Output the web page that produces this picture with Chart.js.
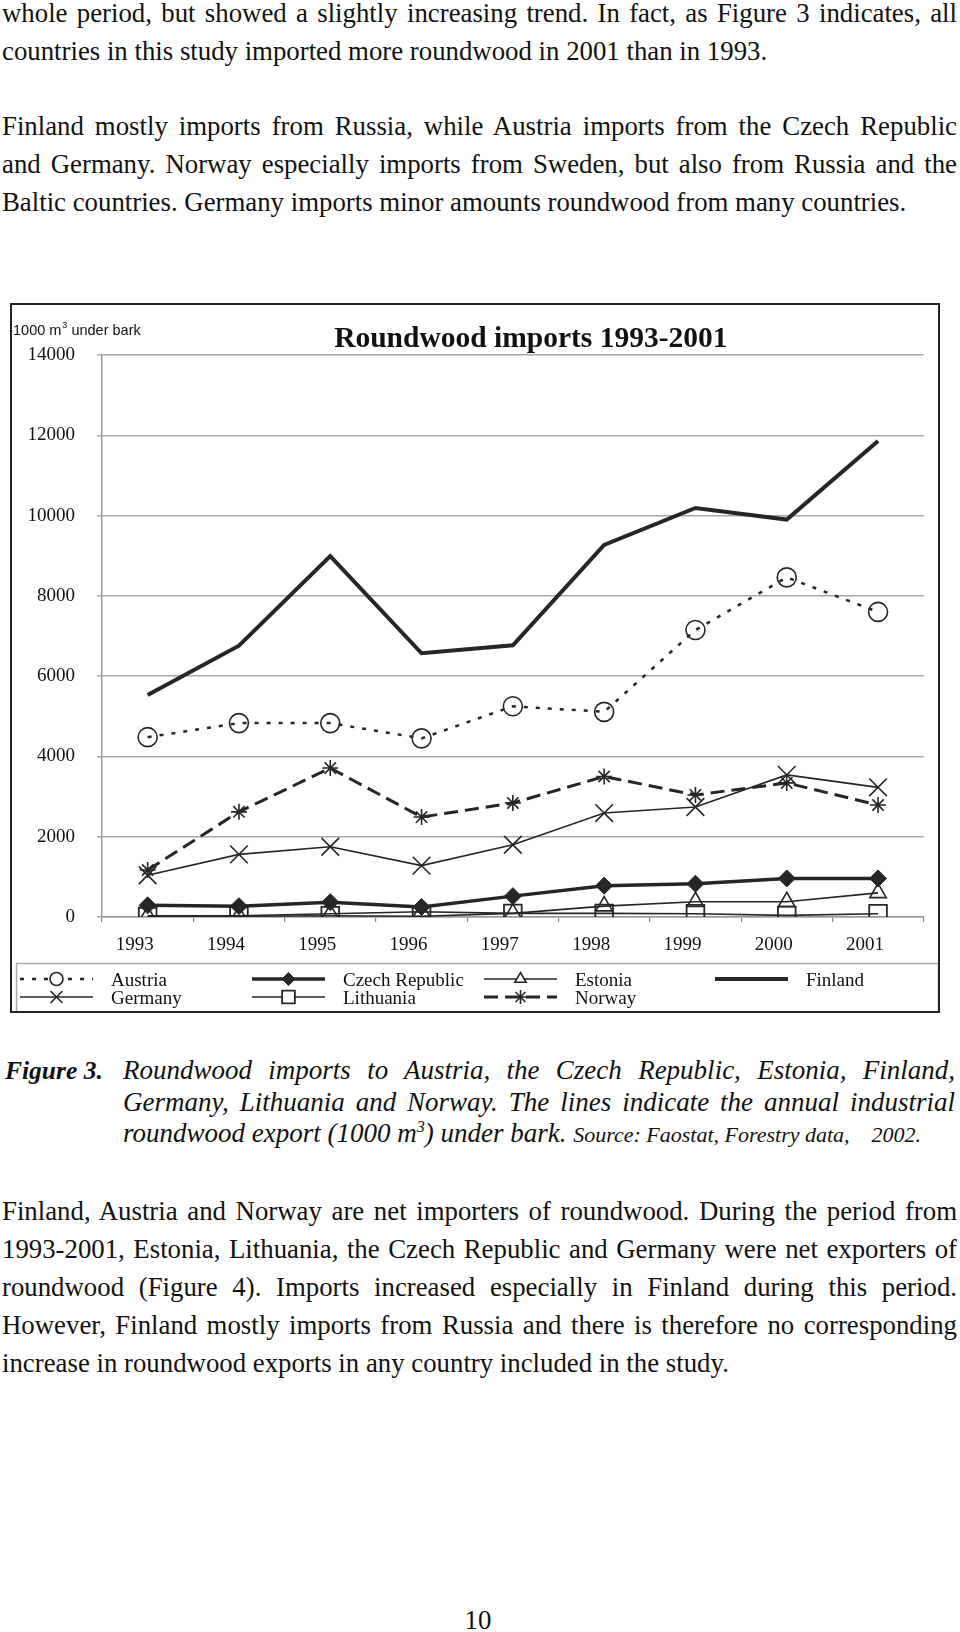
<!DOCTYPE html>
<html>
<head>
<meta charset="utf-8">
<script src="https://cdn.jsdelivr.net/npm/chart.js"></script>
<style>
  body { margin: 0; background: #fff; }
  #page { position: relative; width: 960px; height: 1632px; overflow: hidden; font-family: "Liberation Serif", "Times New Roman", serif; color: #111; }
  .para { position: absolute; left: 2px; width: 955px; font-size: 26.8px; }
  .para div { height: 38px; line-height: 38px; white-space: nowrap; }
  .para div.j { text-align: justify; text-align-last: justify; white-space: normal; overflow: hidden; }
  #caption { position: absolute; left: 5px; top: 1055px; width: 950px; font-size: 27px; font-style: italic; }
  #caption .fig { position: absolute; left: 0; top: 0; font-weight: bold; line-height: 31.5px; font-size: 25.5px; }
  #caption .lines { position: absolute; left: 118px; top: 0; width: 832px; }
  #caption .lines div { height: 31.5px; line-height: 31.5px; white-space: nowrap; }
  #caption .lines div.j { text-align: justify; text-align-last: justify; white-space: normal; overflow: hidden; }
  #caption sup { font-size: 16px; line-height: 0; }
  #caption .src { font-size: 22px; }
  #pageno { position: absolute; left: 0; width: 956px; top: 1605px; text-align: center; font-size: 26.8px; line-height: 30px; }
  #box { position: absolute; left: 10px; top: 303px; width: 930px; height: 710px; border: 2px solid #222; box-sizing: border-box; }
</style>
</head>
<body>
<div id="page">
  <div class="para" style="top:-6px">
    <div class="j">whole period, but showed a slightly increasing trend. In fact, as Figure 3 indicates, all</div>
    <div>countries in this study imported more roundwood in 2001 than in 1993.</div>
  </div>
  <div class="para" style="top:107px">
    <div class="j">Finland mostly imports from Russia, while Austria imports from the Czech Republic</div>
    <div class="j">and Germany. Norway especially imports from Sweden, but also from Russia and the</div>
    <div>Baltic countries. Germany imports minor amounts roundwood from many countries.</div>
  </div>

  <div id="box"><canvas id="chart" width="926" height="706"></canvas></div>

  <div id="caption">
    <div class="fig">Figure 3.</div>
    <div class="lines">
      <div class="j">Roundwood imports to Austria, the Czech Republic, Estonia, Finland,</div>
      <div class="j">Germany, Lithuania and Norway. The lines indicate the annual industrial</div>
      <div>roundwood export (1000 m<sup>3</sup>) under bark. <span class="src">Source: Faostat, Forestry data, &nbsp;&nbsp;&nbsp;2002.</span></div>
    </div>
  </div>

  <div class="para" style="top:1192px">
    <div class="j">Finland, Austria and Norway are net importers of roundwood. During the period from</div>
    <div class="j">1993-2001, Estonia, Lithuania, the Czech Republic and Germany were net exporters of</div>
    <div class="j">roundwood (Figure 4). Imports increased especially in Finland during this period.</div>
    <div class="j">However, Finland mostly imports from Russia and there is therefore no corresponding</div>
    <div>increase in roundwood exports in any country included in the study.</div>
  </div>

  <div id="pageno">10</div>
</div>

<script>
// data (1000 m3 under bark)
const years = ['1993', '1994', '1995', '1996', '1997', '1998', '1999', '2000', '2001'];
const austria = [4480, 4830, 4830, 4450, 5250, 5110, 7150, 8460, 7600];
const czech = [290, 270, 370, 250, 520, 780, 830, 960, 960];
const estonia = [30, 30, 80, 130, 90, 270, 380, 380, 600];
const finland = [5530, 6760, 8990, 6570, 6770, 9270, 10190, 9900, 11860];
const germany = [1040, 1560, 1750, 1280, 1800, 2590, 2740, 3540, 3230];
const lithuania = [10, 20, 30, 20, 90, 90, 80, 40, 80];
const norway = [1170, 2620, 3710, 2490, 2840, 3500, 3040, 3340, 2790];
const yTicks = [0, 2000, 4000, 6000, 8000, 10000, 12000, 14000];
const chartTitle = 'Roundwood imports 1993-2001';
const unitLabel = '1000 m';

const ink = '#262626';
const serif = '"Liberation Serif", "Times New Roman", serif';

// line + marker styles, legend marker size in legendRadius
const datasets = [
    { label: 'Austria', data: austria, borderColor: ink, borderWidth: 2.5, borderDash: [4, 8],
      pointStyle: 'circle', pointRadius: 9.5, pointBorderWidth: 1.6, pointBackgroundColor: 'rgba(0,0,0,0)', pointBorderColor: ink, legendRadius: 6.5 },
    { label: 'Czech Republic', data: czech, borderColor: ink, borderWidth: 3.5,
      pointStyle: 'rectRot', pointRadius: 8.5, pointBorderWidth: 1, pointBackgroundColor: ink, pointBorderColor: ink, legendRadius: 6.5 },
    { label: 'Estonia', data: estonia, borderColor: ink, borderWidth: 1.6,
      pointStyle: 'triangle', pointRadius: 9.5, pointBorderWidth: 1.6, pointBackgroundColor: 'rgba(0,0,0,0)', pointBorderColor: ink, legendRadius: 6.5 },
    { label: 'Finland', data: finland, borderColor: ink, borderWidth: 4,
      pointStyle: false, pointRadius: 0, pointBorderWidth: 0, pointBackgroundColor: ink, pointBorderColor: ink, legendRadius: 0 },
    { label: 'Germany', data: germany, borderColor: ink, borderWidth: 1.6,
      pointStyle: 'crossRot', pointRadius: 12.5, pointBorderWidth: 1.6, pointBackgroundColor: ink, pointBorderColor: ink, legendRadius: 8.5 },
    { label: 'Lithuania', data: lithuania, borderColor: ink, borderWidth: 1.6,
      pointStyle: 'rect', pointRadius: 12.5, pointBorderWidth: 1.8, pointBackgroundColor: 'rgba(0,0,0,0)', pointBorderColor: ink, legendRadius: 9 },
    { label: 'Norway', data: norway, borderColor: ink, borderWidth: 3, borderDash: [14, 7],
      pointStyle: 'star', pointRadius: 8, pointBorderWidth: 1.6, pointBackgroundColor: ink, pointBorderColor: ink, legendRadius: 7 }
];

// title, unit label and the boxed legend are drawn by hand
const sheetExtras = {
    id: 'sheetExtras',
    afterDraw(chart) {
        const c = chart.ctx;
        const area = chart.chartArea;
        c.save();
        c.fillStyle = '#111';
        c.textAlign = 'left';
        c.textBaseline = 'alphabetic';

        // unit label top left
        let x = 1;
        c.font = '14.5px "Liberation Sans", Arial, sans-serif';
        c.fillText(unitLabel, x, 30);
        x += c.measureText(unitLabel).width + 1;
        c.font = '9px "Liberation Sans", Arial, sans-serif';
        c.fillText('3', x, 23);
        x += c.measureText('3').width;
        c.font = '14.5px "Liberation Sans", Arial, sans-serif';
        c.fillText(' under bark', x, 30);

        // title
        c.font = 'bold 29.5px ' + serif;
        c.textAlign = 'center';
        c.fillText(chartTitle, (area.left + area.right) / 2 + 18, 42);

        // legend box
        c.strokeStyle = '#a8a8a8';
        c.lineWidth = 1.5;
        c.setLineDash([]);
        c.strokeRect(4.5, 658.5, 922, 50);

        const cols = [8, 240, 472, 703];
        const rows = [674, 692];
        chart.data.datasets.forEach((ds, i) => {
            const row = i < 4 ? 0 : 1;
            const col = i < 4 ? i : i - 4;
            const x0 = cols[col], y = rows[row];
            c.strokeStyle = ds.borderColor;
            c.lineWidth = ds.borderWidth;
            c.setLineDash(ds.borderDash || []);
            c.beginPath();
            c.moveTo(x0, y);
            c.lineTo(x0 + 73, y);
            c.stroke();
            c.setLineDash([]);
            if (ds.pointStyle && ds.legendRadius) {
                c.fillStyle = ds.pointBackgroundColor === 'rgba(0,0,0,0)' ? '#fff' : ds.pointBackgroundColor;
                c.strokeStyle = ds.pointBorderColor;
                c.lineWidth = ds.pointBorderWidth;
                Chart.helpers.drawPoint(c, { pointStyle: ds.pointStyle, radius: ds.legendRadius, borderWidth: ds.pointBorderWidth, rotation: 0 }, x0 + 36.5, y);
            }
            c.fillStyle = '#111';
            c.textAlign = 'left';
            c.font = '19px ' + serif;
            c.fillText(ds.label, x0 + 91, y + 7);
        });
        c.restore();
    }
};

const ctx = document.getElementById('chart').getContext('2d');
new Chart(ctx, {
    type: 'line',
    data: { labels: years, datasets: datasets },
    options: {
        responsive: false,
        animation: false,
        layout: { padding: { top: 50, right: 1, left: 0, bottom: 0 } },
        elements: { line: { tension: 0, borderJoinStyle: 'miter' } },
        plugins: {
            legend: { display: false },
            title: { display: false },
            tooltip: { enabled: false }
        },
        scales: {
            x: {
                type: 'category',
                offset: true,
                grid: { offset: true, drawOnChartArea: false, drawTicks: true, tickLength: 5, color: '#8a8a8a', lineWidth: 1.2 },
                border: { display: true, color: '#999', width: 1.5 },
                ticks: { font: { family: serif, size: 19 }, color: '#111', padding: 12, labelOffset: -13, maxRotation: 0, autoSkip: false },
                afterFit: s => { s.height = 94; }
            },
            y: {
                min: 0,
                max: 14000,
                afterBuildTicks: s => { s.ticks = yTicks.map(v => ({ value: v })); },
                ticks: { font: { family: serif, size: 19 }, color: '#111', padding: 22, callback: v => String(v) },
                grid: { color: '#a8a8a8', lineWidth: 1.5, tickLength: 5, drawTicks: true },
                border: { color: '#999', width: 1.5 },
                afterFit: s => { s.width = 90; }
            }
        }
    },
    plugins: [sheetExtras]
});
</script>
</body>
</html>
